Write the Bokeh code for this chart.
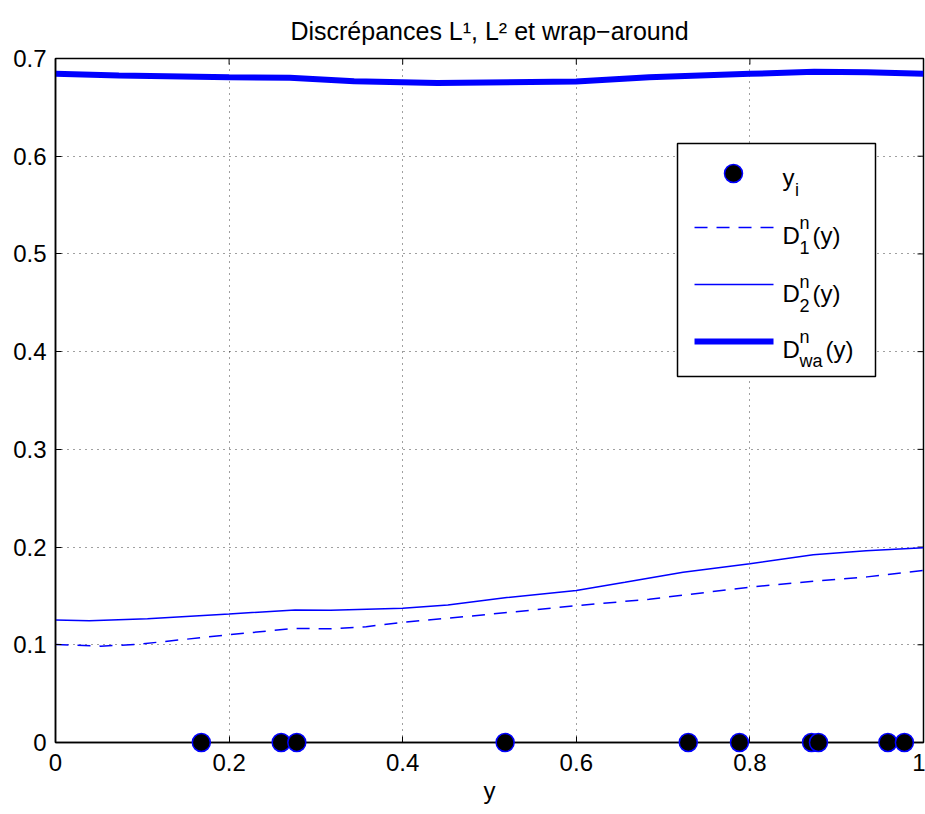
from bokeh.plotting import figure
from bokeh.models import FixedTicker, Range1d, Title
from bokeh.core.properties import value
from bokeh.embed import file_html
from bokeh.resources import INLINE

# sample points y_i
y_points = [0.168, 0.260, 0.278, 0.518, 0.729, 0.788, 0.871, 0.879, 0.959, 0.978]

# L1 discrepancy D_1^n(y)
d1_x = [0.0, 0.052, 0.093, 0.141, 0.2, 0.276, 0.317, 0.358, 0.4, 0.48, 0.6, 0.684, 0.8, 0.874, 0.935, 1.0]
d1_y = [0.1003, 0.0986, 0.1003, 0.1048, 0.1103, 0.1168, 0.1164, 0.1185, 0.1230, 0.1295, 0.1400, 0.1466, 0.1590, 0.1650, 0.1695, 0.1760]

# L2 discrepancy D_2^n(y)
d2_x = [0.0, 0.039, 0.106, 0.2, 0.276, 0.317, 0.4, 0.452, 0.52, 0.6, 0.656, 0.723, 0.8, 0.873, 0.934, 1.0]
d2_y = [0.1253, 0.1247, 0.1267, 0.1315, 0.1356, 0.1353, 0.1373, 0.1408, 0.1483, 0.1555, 0.1640, 0.1743, 0.1829, 0.1921, 0.1962, 0.1993]

# wrap-around discrepancy D_wa^n(y)
dwa_x = [0.0, 0.073, 0.2, 0.27, 0.344, 0.44, 0.6, 0.684, 0.8, 0.874, 0.935, 1.0]
dwa_y = [0.6843, 0.6826, 0.6809, 0.6802, 0.6768, 0.6748, 0.6765, 0.6809, 0.6843, 0.6864, 0.6860, 0.6843]

x_ticks = [0, 0.2, 0.4, 0.6, 0.8, 1]
x_tick_labels = ["0", "0.2", "0.4", "0.6", "0.8", "1"]
y_ticks = [0, 0.1, 0.2, 0.3, 0.4, 0.5, 0.6, 0.7]
y_tick_labels = ["0", "0.1", "0.2", "0.3", "0.4", "0.5", "0.6", "0.7"]

FONT = "Liberation Sans"
BLUE = "#0000ff"
MAIN_SIZE = "24px"
SUB_SIZE = "18px"

title = Title(text="Discrépances L¹, L² et wrap−around", align="center", text_font=FONT,
              text_font_size="25px", text_font_style="normal", text_color="black", standoff=27)

p = figure(width=925, height=814, output_backend="svg", toolbar_location=None,
           x_range=Range1d(0, 1), y_range=Range1d(0, 0.7), title=title,
           min_border_left=55, min_border_right=2, min_border_top=58, min_border_bottom=72,
           x_axis_label="y")

p.outline_line_color = "black"
p.outline_line_width = 1.5
p.background_fill_color = "white"
p.border_fill_color = "white"

for ax, ticks, labels in ((p.xaxis[0], x_ticks, x_tick_labels), (p.yaxis[0], y_ticks, y_tick_labels)):
    ax.ticker = FixedTicker(ticks=ticks)
    ax.major_label_overrides = dict(zip(ticks, labels))
    ax.major_label_text_font = FONT
    ax.major_label_text_font_size = MAIN_SIZE
    ax.major_label_text_color = "black"
    ax.major_tick_in = 6
    ax.major_tick_out = 0
    ax.major_tick_line_color = "black"
    ax.minor_tick_line_color = None
    ax.axis_line_width = 1.5
    ax.axis_line_color = "black"
    ax.major_tick_line_width = 1
    ax.axis_label_text_font = FONT
    ax.axis_label_text_font_size = MAIN_SIZE
    ax.axis_label_text_font_style = "normal"
    ax.axis_label_text_color = "black"
p.xaxis.major_label_standoff = 11
p.xaxis.axis_label_standoff = 3
p.yaxis.major_label_standoff = 9

p.grid.grid_line_color = "black"
p.grid.grid_line_dash = "1 5"
p.grid.grid_line_alpha = 0.75
p.xgrid.ticker = FixedTicker(ticks=x_ticks)
p.ygrid.ticker = FixedTicker(ticks=y_ticks)

# inward tick marks along the top and right edges of the box
tick_dx = 6 / 868
tick_dy = 0.7 * 6 / 684
top_y = y_ticks[-1]
right_x = x_ticks[-1]
p.segment(x_ticks, [top_y] * len(x_ticks), x_ticks, [top_y - tick_dy] * len(x_ticks),
          line_color="black", line_width=1)
p.segment([right_x] * len(y_ticks), y_ticks, [right_x - tick_dx] * len(y_ticks), y_ticks,
          line_color="black", line_width=1)

# curves
p.line(d1_x, d1_y, line_color=BLUE, line_width=1.5, line_dash="13 9")
p.line(d2_x, d2_y, line_color=BLUE, line_width=1.5)
p.line(dwa_x, dwa_y, line_color=BLUE, line_width=6)

# sample points on the axis
pts = p.scatter(y_points, [0] * len(y_points), size=18, fill_color="black",
                line_color=BLUE, line_width=1.5)
pts.level = "overlay"

# legend box
lx0, lx1, ly0, ly1 = 0.7166, 0.9447, 0.3746, 0.6130
p.quad(left=[lx0], right=[lx1], bottom=[ly0], top=[ly1], fill_color="white",
       line_color="black", line_width=1.5)

sx0, sx1, smid = 0.7362, 0.8272, 0.7811
row_line = [0.5823, 0.5270, 0.4687, 0.4104]
row_base = [0.5782, 0.5189, 0.4595, 0.4022]
tx = 0.8376

p.scatter([smid], [row_line[0]], size=18, fill_color="black", line_color=BLUE, line_width=1.5)
p.segment([sx0], [row_line[1]], [sx1], [row_line[1]], line_color=BLUE, line_width=1.5, line_dash="13 9")
p.segment([sx0], [row_line[2]], [sx1], [row_line[2]], line_color=BLUE, line_width=1.5)
p.segment([sx0], [row_line[3]], [sx1], [row_line[3]], line_color=BLUE, line_width=6)


def txt(x, y, s, size, dx=0, dy=0):
    p.text([x], [y], text=[s], text_font=value(FONT), text_font_size=size,
           text_baseline="alphabetic", text_align="left", x_offset=dx, y_offset=dy,
           text_color="black")


# y_i
txt(tx, row_base[0], "y", MAIN_SIZE)
txt(tx, row_base[0], "i", SUB_SIZE, dx=12.5, dy=12)
# D rows
for base, sub, paren_dx in ((row_base[1], "1", 30), (row_base[2], "2", 30), (row_base[3], "wa", 43)):
    txt(tx, base, "D", MAIN_SIZE)
    txt(tx, base, "n", SUB_SIZE, dx=17, dy=-12)
    txt(tx, base, sub, SUB_SIZE, dx=17, dy=12)
    txt(tx, base, "(y)", MAIN_SIZE, dx=paren_dx)

open("out.html", "w").write(file_html(p, INLINE))
